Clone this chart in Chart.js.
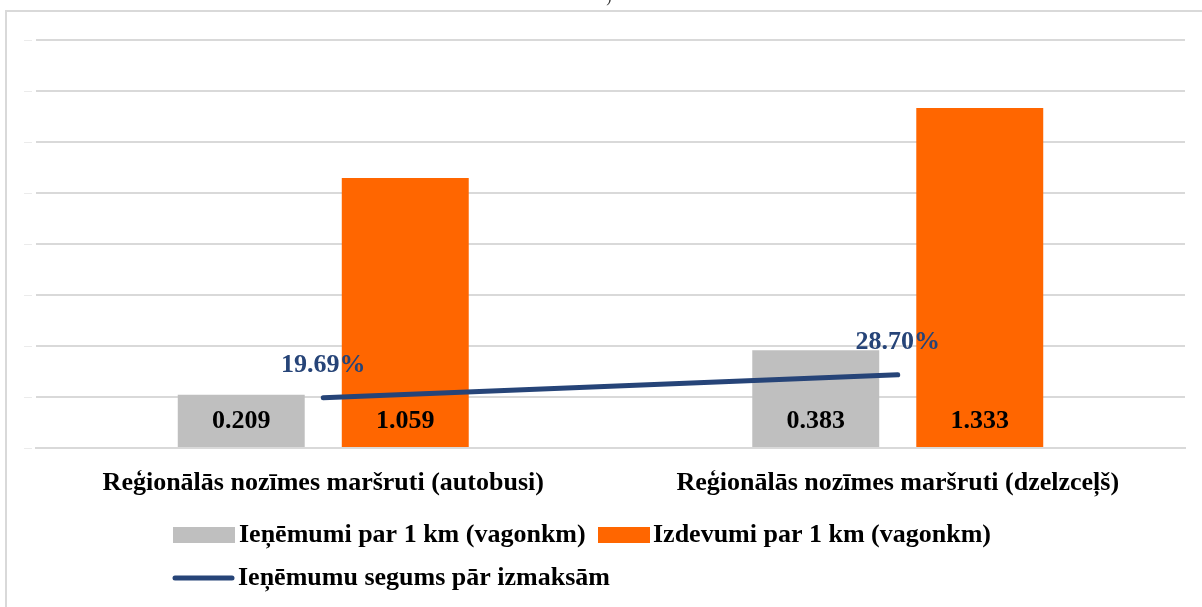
<!DOCTYPE html>
<html>
<head>
<meta charset="utf-8">
<script src="https://cdn.jsdelivr.net/npm/chart.js@4"></script>
<style>
    html, body { margin: 0; padding: 0; background: #fff; overflow: hidden; }
    #wrap { position: relative; width: 1202px; height: 607px; }
    #frame { position: absolute; left: 5px; top: 10px; width: 1210px; height: 620px;
             border-top: 2px solid #d9d9d9; border-left: 2px solid #d9d9d9; box-sizing: border-box; }
    canvas { position: absolute; left: 0; top: 0; }
</style>
</head>
<body>
<div id="wrap">
    <div id="frame"></div>
    <canvas id="chart" width="1202" height="607"></canvas>
</div>
<script>
// ---- datos ----
const categories = ['Reģionālās nozīmes maršruti (autobusi)', 'Reģionālās nozīmes maršruti (dzelzceļš)'];
const ienemumi = [0.209, 0.383];
const izdevumi = [1.059, 1.333];
const segums = [0.1969, 0.2870];
const seriesNames = ['Ieņēmumi par 1 km (vagonkm)', 'Izdevumi par 1 km (vagonkm)', 'Ieņēmumu segums pār izmaksām'];

const SERIF = '"Liberation Serif", "Times New Roman", serif';

// etiquetas de valores + leyenda propia
const labelsPlugin = {
    id: 'labelsPlugin',
    afterDatasetsDraw(chart) {
        const ctx = chart.ctx;
        ctx.save();
        ctx.font = 'bold 26px ' + SERIF;
        ctx.textAlign = 'center';
        ctx.textBaseline = 'middle';
        // barras: valor cerca de la base
        [0, 1].forEach(di => {
            const meta = chart.getDatasetMeta(di);
            meta.data.forEach((bar, i) => {
                ctx.fillStyle = '#000';
                ctx.fillText(chart.data.datasets[di].data[i].toFixed(3), bar.x, bar.base - 26);
            });
        });
        // linea: porcentaje encima
        const lm = chart.getDatasetMeta(2);
        lm.data.forEach((pt, i) => {
            ctx.fillStyle = '#264478';
            ctx.fillText((segums[i] * 100).toFixed(2) + '%', pt.x, pt.y - 33);
        });
        ctx.restore();
    },
    afterDraw(chart) {
        const ctx = chart.ctx;
        ctx.save();
        // resto del titulo cortado
        ctx.font = '16px ' + SERIF;
        ctx.fillStyle = '#333';
        ctx.textAlign = 'center';
        ctx.textBaseline = 'alphabetic';
        ctx.fillText(')', 609, 2);

        ctx.font = 'bold 26px ' + SERIF;
        ctx.textBaseline = 'middle';
        ctx.textAlign = 'left';
        // fila 1
        ctx.fillStyle = '#BFBFBF';
        ctx.fillRect(173, 527, 62, 16);
        ctx.fillStyle = '#000';
        ctx.fillText(seriesNames[0], 239, 535);
        ctx.fillStyle = '#FF6600';
        ctx.fillRect(598, 527, 52, 16);
        ctx.fillStyle = '#000';
        ctx.fillText(seriesNames[1], 653, 535);
        // fila 2
        ctx.strokeStyle = '#264478';
        ctx.lineWidth = 5;
        ctx.lineCap = 'round';
        ctx.beginPath();
        ctx.moveTo(175, 578);
        ctx.lineTo(232, 578);
        ctx.stroke();
        ctx.fillStyle = '#000';
        ctx.fillText(seriesNames[2], 238, 578);
        ctx.restore();
    }
};

new Chart(document.getElementById('chart'), {
    data: {
        labels: categories,
        datasets: [
            {
                type: 'bar',
                label: seriesNames[0],
                data: ienemumi,
                backgroundColor: '#BFBFBF',
                categoryPercentage: 0.571,
                barPercentage: 0.774,
                order: 2
            },
            {
                type: 'bar',
                label: seriesNames[1],
                data: izdevumi,
                backgroundColor: '#FF6600',
                categoryPercentage: 0.571,
                barPercentage: 0.774,
                order: 2
            },
            {
                type: 'line',
                label: seriesNames[2],
                data: segums,
                borderColor: '#264478',
                borderWidth: 5,
                borderCapStyle: 'round',
                pointRadius: 0,
                fill: false,
                order: 0
            }
        ]
    },
    options: {
        responsive: false,
        animation: false,
        layout: { padding: { top: 40, right: 17, bottom: 109, left: 0 } },
        plugins: {
            legend: { display: false },
            title: { display: false },
            tooltip: { enabled: false }
        },
        scales: {
            x: {
                grid: { display: false },
                border: { color: '#d9d9d9', width: 2 },
                ticks: {
                    color: '#000',
                    font: { family: SERIF, size: 26, weight: 'bold' },
                    padding: 12,
                    maxRotation: 0
                },
                afterFit: s => { s.height = 50; }
            },
            y: {
                min: 0,
                max: 1.6,
                grid: { color: '#d9d9d9', lineWidth: 2, drawTicks: false },
                border: { display: false },
                ticks: {
                    stepSize: 0.2,
                    color: '#d9d9d9',
                    font: { size: 8 },
                    padding: 4,
                    callback: () => '—'
                },
                afterFit: s => { s.width = 36; }
            }
        }
    },
    plugins: [labelsPlugin]
});
</script>
</body>
</html>
